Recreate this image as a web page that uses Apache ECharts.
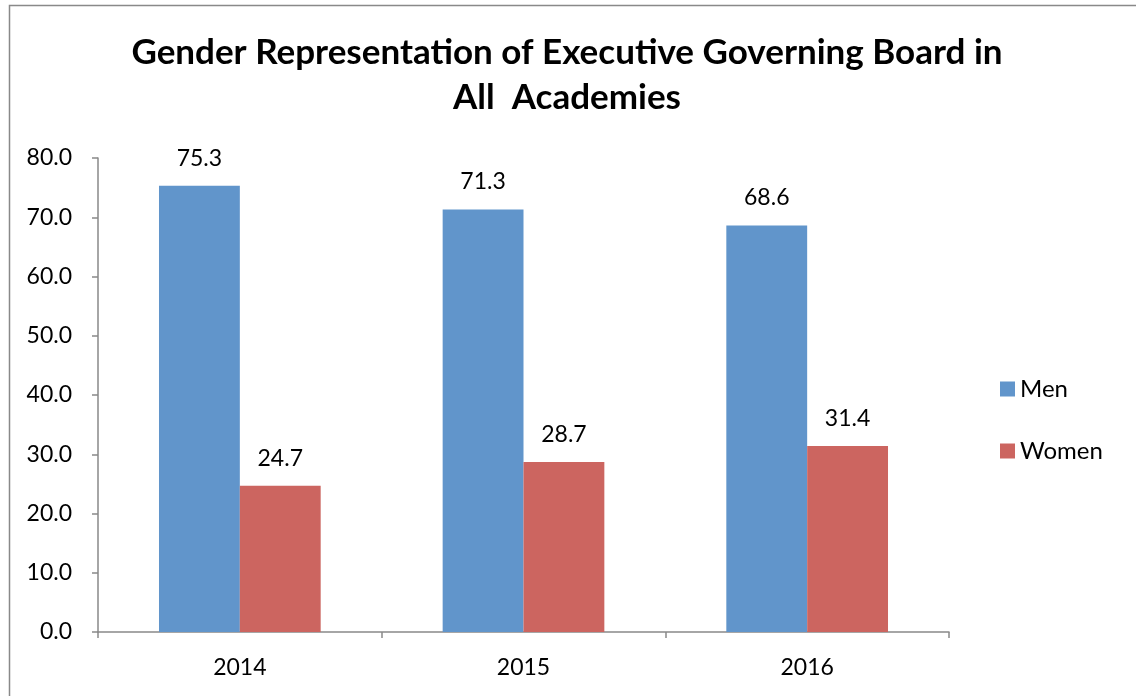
<!DOCTYPE html>
<html>
<head>
<meta charset="utf-8">
<style>html,body{margin:0;padding:0;background:#fff;}#c{width:1136px;height:696px;}</style>
<script src="https://cdn.jsdelivr.net/npm/echarts@6/dist/echarts.min.js"></script>
</head>
<body>
<div id="c"></div>
<script>
const categories = ['2014', '2015', '2016'];
const menValues = [75.3, 71.3, 68.6];
const womenValues = [24.7, 28.7, 31.4];
const yTicks = [0, 10, 20, 30, 40, 50, 60, 70, 80];

const chart = echarts.init(document.getElementById('c'));
const FONT = 'Lato';
const axisGray = '#898989';
chart.setOption({
  animation: false,
  backgroundColor: '#fff',
  graphic: [{
    type: 'rect', left: 7, top: 3, shape: {width: 1200, height: 800},
    style: {fill: 'none', stroke: '#898989', lineWidth: 1.5}, silent: true
  }],
  title: {
    text: 'Gender Representation of Executive Governing Board in\nAll  Academies',
    left: 567, top: 30, padding: 0, textAlign: 'center',
    textStyle: {fontFamily: FONT, fontWeight: 'bold', fontSize: 35, lineHeight: 45, color: '#000'}
  },
  legend: {
    orient: 'vertical', left: 995, top: 372, itemWidth: 15, itemHeight: 15, itemGap: 38,
    icon: 'rect',
    textStyle: {fontFamily: FONT, fontSize: 24, color: '#000'},
    data: ['Men', 'Women']
  },
  grid: {left: 98, right: 187, top: 158, bottom: 64},
  xAxis: {
    type: 'category', data: categories,
    axisLine: {lineStyle: {color: axisGray, width: 1.5}},
    axisTick: {show: true, length: 6, lineStyle: {color: axisGray, width: 1.5}},
    axisLabel: {fontFamily: FONT, fontSize: 23, color: '#000', margin: 24}
  },
  yAxis: {
    type: 'value', min: yTicks[0], max: yTicks[yTicks.length - 1], interval: 10,
    splitLine: {show: false},
    axisLine: {show: true, lineStyle: {color: axisGray, width: 1.5}},
    axisTick: {show: true, length: 6, lineStyle: {color: axisGray, width: 1.5}},
    axisLabel: {fontFamily: FONT, fontSize: 23, color: '#000', margin: 26, formatter: v => v.toFixed(1)}
  },
  series: [
    {name: 'Men', type: 'bar', data: menValues, barGap: '0%', barCategoryGap: '43%',
     itemStyle: {color: '#6195CB'},
     label: {show: true, position: 'top', distance: 16, fontFamily: FONT, fontSize: 23, color: '#000', formatter: p => p.value.toFixed(1)}},
    {name: 'Women', type: 'bar', data: womenValues, barGap: '0%', barCategoryGap: '43%',
     itemStyle: {color: '#CC6560'},
     label: {show: true, position: 'top', distance: 16, fontFamily: FONT, fontSize: 23, color: '#000', formatter: p => p.value.toFixed(1)}}
  ]
});
</script>
</body>
</html>
